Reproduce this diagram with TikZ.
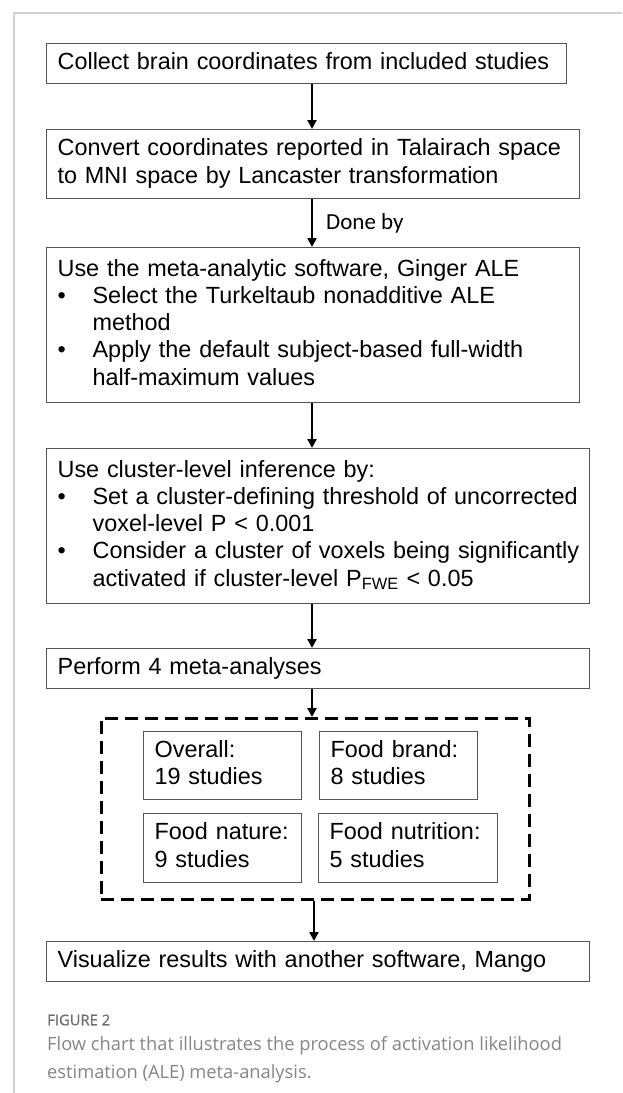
\documentclass[tikz,border=0pt]{standalone}
\usepackage{fontspec}
\setmainfont{Liberation Sans}
\newfontfamily\carlitofont{Carlito}
\newfontfamily\capfont{Open Sans}
\newfontfamily\capboldfont[FakeBold=0.9]{Open Sans}
\usetikzlibrary{arrows.meta}
\definecolor{boxline}{HTML}{555555}
\definecolor{framegray}{HTML}{D0D0D0}
\definecolor{capgray}{HTML}{858585}
\definecolor{figgray}{HTML}{6E6E6E}
\tikzset{
  flowbox/.style={draw=boxline, line width=1.3pt, anchor=north west,
    inner xsep=11pt, inner ysep=0pt, align=left,
    font=\fontsize{23.4}{27.3}\selectfont},
  arr/.style={draw=black, line width=2.2pt, -{Triangle[length=9pt,width=9pt]}},
  grpbox/.style={draw=black, line width=2.6pt, dash pattern=on 13pt off 7pt,
    anchor=north west, inner sep=0pt},
}
\newcommand{\bul}{\makebox[35pt][l]{\textbullet}}
\newcommand{\ind}{\hspace*{35pt}}
\newcommand{\lines}[1]{\begin{tabular}{@{}l@{}}#1\end{tabular}}
\begin{document}
\begin{tikzpicture}[x=1pt,y=-1pt]
\useasboundingbox (0,0) rectangle (622,1093);
% page frame
\draw[framegray, line width=1.5pt] (14,1093) -- (14,13) -- (622,13);

\node[flowbox, text width=498pt, minimum height=40pt] (b1) at (46,43)
  {\lines{Collect brain coordinates from included studies}};
\node[flowbox, text width=511pt, minimum height=69pt] (b2) at (46,129)
  {\lines{Convert coordinates reported in Talairach space\\to MNI space by Lancaster transformation}};
\node[flowbox, text width=511pt, minimum height=155pt] (b3) at (46,247)
  {\lines{Use the meta-analytic software, Ginger ALE\\
  \bul Select the Turkeltaub nonadditive ALE\\
  \ind method\\
  \bul Apply the default subject-based full-width\\
  \ind half-maximum values}};
\node[flowbox, text width=521pt, minimum height=155pt] (b4) at (46,448)
  {\lines{Use cluster-level inference by:\\
  \bul Set a cluster-defining threshold of uncorrected\\
  \ind voxel-level P < 0.001\\
  \bul Consider a cluster of voxels being significantly\\
  \ind activated if cluster-level P\textsubscript{FWE} < 0.05}};
\node[flowbox, text width=521pt, minimum height=40pt] (b5) at (46,648)
  {\lines{Perform 4 meta-analyses}};

\node[grpbox, minimum width=428pt, minimum height=181pt] (grp) at (100,717) {};
\node[flowbox, text width=136pt, minimum height=68pt] (ov) at (143,731)
  {\lines{Overall:\\19 studies}};
\node[flowbox, text width=136pt, minimum height=68pt] (br) at (319,731)
  {\lines{Food brand:\\8 studies}};
\node[flowbox, text width=136pt, minimum height=69pt] (na) at (143,813)
  {\lines{Food nature:\\9 studies}};
\node[flowbox, text width=157pt, minimum height=69pt] (nu) at (318,813)
  {\lines{Food nutrition:\\5 studies}};

\node[flowbox, text width=521pt, minimum height=40pt] (b6) at (46,941)
  {\lines{Visualize results with another software, Mango}};

% arrow columns
\coordinate (ax) at (312,0);
\coordinate (bx) at (314,0);
\draw[arr] (b1.south -| ax) -- (b2.north -| ax);
\draw[arr] (b2.south -| ax) -- (b3.north -| ax);
\draw[arr] (b3.south -| ax) -- (b4.north -| ax);
\draw[arr] (b4.south -| ax) -- (b5.north -| ax);
\draw[arr] (b5.south -| ax) -- (grp.north -| ax);
\draw[arr] (grp.south -| bx) -- (b6.north -| bx);

\node[font=\carlitofont\fontsize{23}{27}\selectfont, anchor=west, inner sep=0pt] (done) at (326,223) {Done by};

% caption
\node[font=\capboldfont\fontsize{14.8}{17}\selectfont, text=figgray, anchor=west, inner sep=0pt] (fig) at (47,1020) {FIGURE 2};
\node[font=\capfont\fontsize{18.3}{28}\selectfont, text=capgray, anchor=north west, inner sep=0pt, align=left] (cap) at (47,1036)
  {Flow chart that illustrates the process of activation likelihood\\estimation (ALE) meta-analysis.};
\end{tikzpicture}
\end{document}
